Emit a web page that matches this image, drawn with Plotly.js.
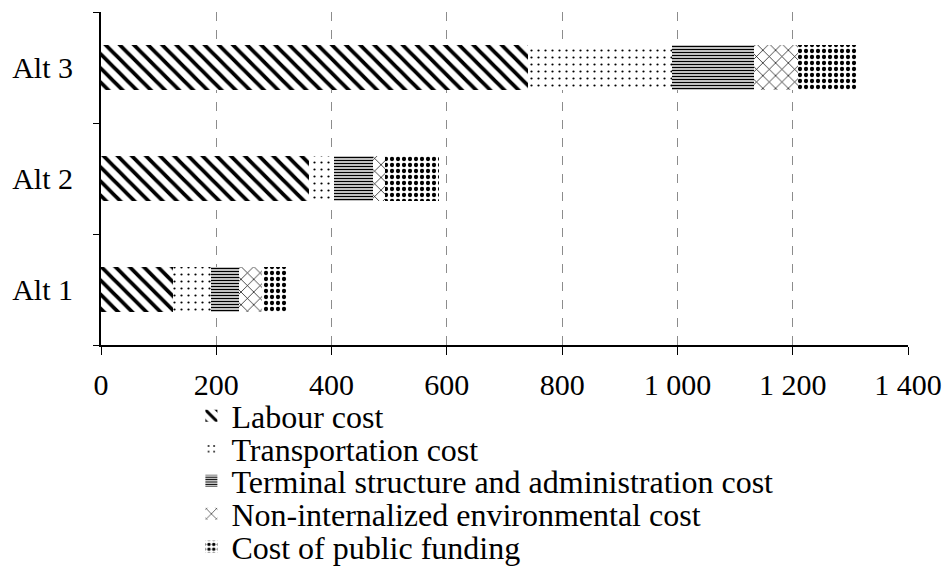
<!DOCTYPE html>
<html>
<head>
<meta charset="utf-8">
<script src="https://cdn.plot.ly/plotly-3.0.1.min.js"></script>
<style>html,body{margin:0;padding:0;background:#fff;}#chart{width:948px;height:569px;}</style>
</head>
<body>
<div id="chart"></div>
<script>
const categories = ['Alt 1', 'Alt 2', 'Alt 3'];
const seriesNames = ['Labour cost', 'Transportation cost', 'Terminal structure and administration cost', 'Non-internalized environmental cost', 'Cost of public funding'];
const labourCost = [125, 360, 740];
const transportationCost = [66, 44, 250];
const terminalCost = [48, 68, 142];
const environmentalCost = [40, 21, 78];
const publicFundingCost = [44, 93, 102];
const xTickValues = [0, 200, 400, 600, 800, 1000, 1200, 1400];

const seriesValues = [labourCost, transportationCost, terminalCost, environmentalCost, publicFundingCost];
const patterns = [
  {shape: '\\', size: 10, solidity: 0.38},
  {shape: '.', size: 7, solidity: 0.08},
  {shape: '-', size: 3, solidity: 0.5},
  {shape: 'x', size: 9, solidity: 0.15},
  {shape: '.', size: 6, solidity: 0.4}
];

const legendIds = ['legend', 'legend2', 'legend3', 'legend4', 'legend5'];

const traces = seriesValues.map((vals, i) => ({
  type: 'bar',
  orientation: 'h',
  name: seriesNames[i],
  legend: legendIds[i],
  y: categories,
  x: vals,
  marker: {
    color: 'white',
    line: {width: 0},
    pattern: Object.assign({fgcolor: 'black', bgcolor: 'white', fillmode: 'replace'}, patterns[i])
  },
  hoverinfo: 'x+name'
}));

const fam = 'Liberation Serif, Times New Roman, serif';
const font = {family: fam, size: 30, color: 'black'};
const legendFont = {family: fam, size: 32, color: 'black'};

const plotTop = 12, plotBottom = 345;
const layout = {
  width: 948,
  height: 569,
  margin: {l: 101, r: 40, t: plotTop, b: 569 - plotBottom, autoexpand: false},
  paper_bgcolor: 'white',
  plot_bgcolor: 'white',
  font: font,
  barmode: 'stack',
  bargap: 0.6,
  separators: '. ',
  showlegend: true,
  xaxis: {
    range: [0, 1400],
    tickvals: xTickValues,
    separatethousands: true,
    showgrid: true,
    gridcolor: '#8c8c8c',
    griddash: 'dash',
    gridwidth: 1,
    zeroline: false,
    showline: true,
    linecolor: 'black',
    linewidth: 2,
    ticks: 'outside',
    ticklen: 8,
    tickwidth: 1,
    tickcolor: 'black',
    tickfont: font,
    ticklabelstandoff: 4,
    fixedrange: true
  },
  yaxis: {
    type: 'category',
    categoryorder: 'array',
    categoryarray: categories,
    showgrid: false,
    zeroline: false,
    showline: true,
    linecolor: 'black',
    linewidth: 2,
    ticks: 'outside',
    tickson: 'boundaries',
    ticklen: 6,
    tickwidth: 1,
    tickcolor: 'black',
    tickfont: font,
    ticklabelstandoff: 20,
    fixedrange: true
  }
};

// one legend per item so the rows can be spaced like the reference
const rowCenters = [416, 449, 481, 514, 547];
legendIds.forEach((id, i) => {
  layout[id] = {
    orientation: 'v',
    x: 0.112, xanchor: 'left',
    y: (plotBottom - rowCenters[i]) / (plotBottom - plotTop), yanchor: 'middle',
    font: legendFont,
    itemwidth: 30,
    tracegroupgap: 0,
    borderwidth: 0,
    bgcolor: 'rgba(0,0,0,0)'
  };
});

Plotly.newPlot('chart', traces, layout, {displayModeBar: false, staticPlot: true});
</script>
</body>
</html>
